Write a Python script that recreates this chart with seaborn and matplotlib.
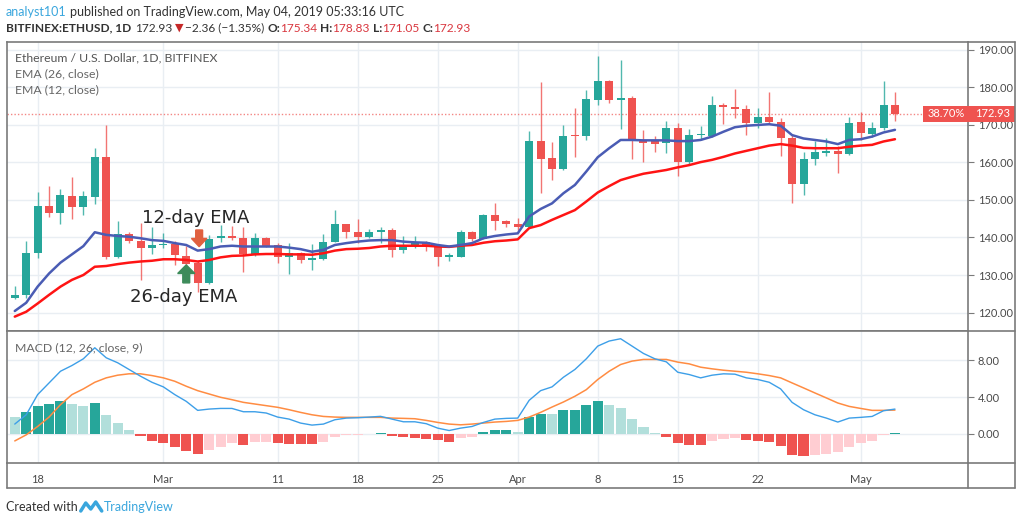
import numpy as np
import pandas as pd
import seaborn as sns
import matplotlib.pyplot as plt
from matplotlib.patches import Rectangle, FancyArrow

# ETH/USD daily candles, 16 Feb - 4 May 2019
start_day = "2019-02-16"
opens = np.array([124.0, 124.6, 135.8, 148.5, 146.5, 151.1, 148.0, 150.9, 161.5, 134.9,
                  140.9, 139.1, 137.3, 137.9, 138.3, 135.1, 133.1, 128.0, 139.8, 140.4,
                  139.8, 135.6, 139.8, 138.0, 134.9, 135.8, 133.9, 134.3, 138.9, 143.5,
                  141.4, 140.2, 141.4, 142.0, 136.7, 137.6, 138.8, 137.6, 134.9, 134.9,
                  141.5, 139.7, 146.0, 144.4, 143.6, 142.9, 165.7, 161.1, 158.3, 167.4,
                  167.0, 176.7, 181.6, 176.7, 177.3, 165.7, 165.6, 165.1, 169.1, 160.2,
                  167.3, 167.1, 175.3, 174.8, 174.3, 170.6, 172.2, 170.7, 166.6, 154.3,
                  161.0, 162.6, 163.1, 162.2, 170.7, 167.5, 169.1, 175.34])
highs = np.array([127.1, 139.1, 152.0, 153.7, 152.9, 156.2, 152.4, 163.8, 170.0, 144.4,
                  141.5, 143.8, 142.7, 141.1, 139.1, 137.7, 133.6, 140.7, 143.3, 143.1,
                  142.9, 141.1, 140.2, 138.6, 138.6, 136.2, 138.2, 140.9, 147.3, 143.7,
                  144.9, 142.3, 142.7, 142.5, 140.4, 140.5, 139.1, 138.0, 135.9, 142.0,
                  141.6, 146.3, 149.1, 144.6, 145.1, 168.5, 181.5, 165.4, 170.0, 174.6,
                  179.2, 188.4, 182.1, 187.3, 177.8, 168.7, 167.1, 171.1, 170.4, 168.8,
                  169.6, 177.8, 175.8, 179.5, 175.3, 174.6, 178.7, 171.8, 167.3, 162.7,
                  165.7, 166.4, 164.4, 172.0, 173.4, 170.9, 181.6, 178.83])
lows = np.array([123.5, 123.8, 134.4, 145.5, 143.6, 144.9, 145.9, 148.9, 134.3, 134.4,
                 138.6, 128.7, 135.6, 137.1, 132.6, 132.4, 125.5, 127.6, 138.9, 139.3,
                 130.9, 135.1, 137.4, 133.3, 130.4, 133.3, 131.3, 134.0, 138.7, 139.8,
                 138.5, 139.8, 138.6, 134.9, 135.9, 137.3, 136.5, 132.4, 133.6, 134.8,
                 139.1, 139.6, 142.0, 142.7, 142.0, 142.7, 151.8, 155.2, 158.0, 161.5,
                 166.0, 175.2, 175.8, 168.9, 160.9, 160.2, 162.9, 162.6, 156.5, 159.3,
                 166.0, 166.7, 170.2, 171.8, 167.3, 169.1, 170.2, 161.8, 149.1, 151.3,
                 159.2, 161.6, 157.1, 162.0, 166.0, 166.9, 168.7, 171.05])
closes = np.array([124.7, 135.8, 148.5, 146.5, 151.3, 148.0, 151.1, 161.5, 134.7, 140.9,
                   139.1, 137.3, 138.0, 138.3, 135.3, 132.9, 128.0, 139.5, 140.4, 139.8,
                   135.6, 139.8, 137.7, 134.9, 135.8, 134.0, 134.4, 138.9, 143.5, 141.4,
                   140.2, 141.4, 142.0, 136.7, 137.6, 138.8, 137.6, 134.7, 135.2, 141.5,
                   139.7, 146.0, 144.4, 143.5, 142.9, 165.7, 160.9, 158.3, 167.1, 167.0,
                   176.8, 181.6, 176.7, 177.3, 165.6, 165.3, 165.0, 169.1, 160.2, 167.4,
                   167.6, 175.3, 174.7, 174.2, 170.6, 172.2, 170.9, 166.6, 154.3, 160.8,
                   162.7, 163.1, 162.2, 170.4, 167.8, 169.3, 175.3, 172.93])

ema12 = np.array([120.4, 122.6, 126.9, 130.4, 133.3, 135.5, 137.7, 141.4, 140.7, 140.4,
                  140.2, 139.8, 139.3, 139.1, 138.5, 138.0, 136.5, 136.9, 137.6, 137.8,
                  137.6, 137.6, 137.6, 137.6, 137.3, 136.9, 136.2, 136.7, 138.0, 138.5,
                  138.9, 139.2, 139.3, 139.3, 138.9, 138.7, 138.6, 138.0, 137.6, 138.0,
                  138.5, 139.8, 140.4, 140.8, 141.1, 145.6, 147.6, 149.1, 151.8, 154.0,
                  157.6, 161.4, 163.8, 166.0, 166.0, 165.9, 165.9, 165.9, 165.7, 165.7,
                  166.0, 166.9, 168.2, 169.4, 169.8, 170.0, 170.2, 169.8, 167.3, 166.4,
                  166.0, 165.6, 164.9, 166.0, 166.2, 166.9, 168.0, 168.7])
ema26 = np.array([118.9, 120.2, 122.4, 124.7, 126.9, 128.7, 130.0, 132.2, 132.4, 132.9,
                  133.3, 133.6, 133.8, 134.2, 134.2, 134.0, 133.6, 134.0, 134.7, 135.1,
                  135.2, 135.5, 135.6, 135.6, 135.5, 135.5, 135.4, 135.8, 136.5, 136.9,
                  137.0, 137.2, 137.6, 137.8, 137.8, 137.8, 137.8, 137.6, 137.5, 137.8,
                  138.0, 138.6, 139.0, 139.2, 139.5, 142.5, 143.3, 144.7, 146.0, 147.3,
                  149.6, 152.0, 153.7, 155.3, 156.2, 157.0, 157.5, 158.0, 158.7, 159.3,
                  160.1, 160.7, 161.5, 162.4, 163.1, 163.8, 164.5, 164.9, 164.5, 163.9,
                  163.8, 163.8, 163.8, 164.2, 164.5, 164.7, 165.6, 166.2])

macd = np.array([1.06, 2.07, 4.26, 5.53, 6.80, 7.42, 8.15, 9.35, 8.26, 7.72,
                 6.99, 6.26, 5.60, 5.10, 4.26, 3.53, 2.55, 2.69, 2.76, 2.76,
                 2.40, 2.40, 2.26, 1.82, 1.60, 1.17, 0.95, 1.06, 1.53, 1.71,
                 1.75, 1.82, 1.90, 1.60, 1.31, 1.31, 1.10, 0.62, 0.36, 0.62,
                 0.80, 1.24, 1.60, 1.68, 1.71, 3.64, 4.69, 5.10, 6.15, 6.99,
                 8.15, 9.53, 10.08, 10.33, 9.53, 8.73, 8.15, 7.82, 6.69, 6.44,
                 6.08, 6.37, 6.52, 6.48, 6.08, 5.90, 5.60, 4.88, 3.42, 2.62,
                 2.07, 1.71, 1.28, 1.71, 1.79, 1.89, 2.51, 2.69])
signal = np.array([-0.77, -0.11, 0.80, 1.82, 3.17, 4.26, 4.88, 5.60, 6.08, 6.37,
                   6.52, 6.52, 6.33, 6.08, 5.71, 5.17, 4.69, 4.33, 3.97, 3.71,
                   3.42, 3.24, 3.06, 2.88, 2.62, 2.33, 2.07, 1.89, 1.82, 1.79,
                   1.79, 1.79, 1.79, 1.71, 1.68, 1.64, 1.46, 1.24, 1.06, 0.98,
                   1.06, 1.17, 1.28, 1.35, 1.46, 1.82, 2.33, 2.91, 3.46, 4.08,
                   4.80, 5.90, 6.80, 7.53, 7.90, 8.08, 8.08, 8.08, 7.79, 7.60,
                   7.24, 7.06, 6.91, 6.80, 6.69, 6.52, 6.33, 6.08, 5.53, 4.99,
                   4.44, 3.90, 3.35, 2.98, 2.76, 2.55, 2.55, 2.58])
hist = np.array([1.82, 2.37, 2.98, 3.28, 3.57, 3.28, 3.06, 3.38, 2.07, 1.17,
                 0.44, -0.22, -0.73, -0.95, -1.38, -1.82, -2.22, -1.75, -1.38, -1.02,
                 -1.20, -0.91, -0.84, -1.02, -1.05, -1.13, -1.15, -0.84, -0.29, -0.15,
                 -0.11, -0.04, 0.11, -0.22, -0.38, -0.42, -0.51, -0.66, -0.84, -0.40,
                 -0.29, 0.18, 0.40, 0.45, 0.25, 1.78, 2.20, 2.15, 2.55, 2.60,
                 3.09, 3.53, 3.17, 2.80, 1.60, 0.73, 0.05, -0.29, -1.02, -1.18,
                 -1.22, -0.73, -0.51, -0.44, -0.66, -0.76, -0.84, -1.27, -2.29, -2.40,
                 -2.29, -2.18, -1.97, -1.38, -1.02, -0.76, -0.11, 0.07])
hist_prev = 2.0  # bar before the first visible one

tick_days = ["2019-02-18", "2019-03-01", "2019-03-11", "2019-03-18", "2019-03-25",
             "2019-04-01", "2019-04-08", "2019-04-15", "2019-04-22", "2019-05-01"]
tick_labels = ["18", "Mar", "11", "18", "25", "Apr", "8", "15", "22", "May"]
price_ticks = [120, 130, 140, 150, 160, 170, 180, 190]
macd_ticks = [0, 4, 8]
range_change = "38.70%"

TEAL, RED = "#26a69a", "#ef5350"
GRID, FRAME, TXT = "#e9eef3", "#7a7a7a", "#4a4a4a"

sns.set_style("white")
plt.rcParams['font.family'] = ['Lato', 'DejaVu Sans']

W, H = 1024, 524
fig = plt.figure(figsize=(W / 100, H / 100), dpi=100)

def fx(px):
    return px / W

def fy(py):
    return 1 - py / H

ax = fig.add_axes([fx(7), fy(331), (968 - 7) / W, (331 - 41.7) / H])
axm = fig.add_axes([fx(7), fy(463.3), (968 - 7) / W, (463.3 - 331) / H], sharex=ax)

dates = pd.date_range(start_day, periods=len(closes))
x = np.arange(len(closes))
tick_pos = dates.get_indexer(pd.to_datetime(tick_days))

#candles
up = closes >= opens
ccol = np.where(up, TEAL, RED)
ax.vlines(x, lows, highs, colors=ccol, linewidth=1, alpha=0.8, zorder=3)
ax.bar(x, np.maximum(np.abs(closes - opens), 0.2), bottom=np.minimum(opens, closes),
       width=0.7, color=ccol, linewidth=0, zorder=4)

sns.lineplot(x=x, y=ema26, ax=ax, color="#ff1414", linewidth=1.8, zorder=5)
sns.lineplot(x=x, y=ema12, ax=ax, color="#4a5cb4", linewidth=1.8, zorder=5)

last = closes[-1]
ax.axhline(last, xmax=0.953, color=RED, linestyle=(0, (1, 1.5)), linewidth=1, alpha=0.7, zorder=2)

#annotations
ax.text(11.1, 143.8, "12-day EMA", fontsize=13, family="DejaVu Sans", va="baseline", zorder=6)
ax.text(10.08, 122.9, "26-day EMA", fontsize=13, family="DejaVu Sans", va="baseline", zorder=6)
ax.add_patch(FancyArrow(16.13, 142.0, 0, -4.45, width=0.6, head_width=1.35, head_length=2.2,
                        length_includes_head=True, color="#e0603f", zorder=7))
ax.add_patch(FancyArrow(15.0, 127.9, 0, 4.8, width=0.6, head_width=1.5, head_length=2.3,
                        length_includes_head=True, color="#3d8b5a", zorder=7))

#macd pane
prev = np.concatenate([[hist_prev], hist[:-1]])
hcol = np.where(hist >= 0, np.where(hist > prev, TEAL, "#b2dfdb"),
                np.where(hist < prev, RED, "#ffcdd2"))
axm.bar(x, hist, width=0.88, color=hcol, linewidth=0, zorder=2)
sns.lineplot(x=x, y=signal, ax=axm, color="#ff8c42", linewidth=1.1, zorder=3)
sns.lineplot(x=x, y=macd, ax=axm, color="#3d9fe8", linewidth=1.0, zorder=4)

ax.set_xlim(-0.68, 83.39)
ax.set_ylim(115.07, 192.2)
axm.set_ylim(-3.2, 11.17)

for a in (ax, axm):
    a.yaxis.tick_right()
    a.set_axisbelow(True)
    a.grid(True, color=GRID, linewidth=1)
    a.tick_params(axis="y", labelsize=8, colors=FRAME, labelcolor=TXT, length=4, pad=3)
    for s in a.spines.values():
        s.set_color(FRAME)
        s.set_linewidth(1.2)
    a.set_xlabel("")
    a.set_ylabel("")

ax.set_yticks(price_ticks)
ax.set_yticklabels([f"{v:.2f}" for v in price_ticks])
axm.set_yticks(macd_ticks)
axm.set_yticklabels([f"{v:.2f}" for v in macd_ticks])
axm.set_xticks(tick_pos)
axm.set_xticklabels(tick_labels)
ax.tick_params(axis="x", length=0, labelbottom=False)
axm.tick_params(axis="x", labelsize=8, colors=FRAME, labelcolor=TXT, length=4, pad=4)

#overlay for frame, price tags and header
ov = fig.add_axes([0, 0, 1, 1], zorder=10)
ov.set_xlim(0, W)
ov.set_ylim(H, 0)
ov.axis("off")
ov.patch.set_alpha(0)

for xs, ys in [((1015, 1015), (41.7, 488.3)), ((7, 1015), (488.3, 488.3)),
               ((968, 1015), (41.7, 41.7)), ((968, 1015), (331, 331)),
               ((968, 1015), (463.3, 463.3)), ((7, 7), (463.3, 488.3)),
               ((968, 968), (463.3, 488.3))]:
    ov.plot(xs, ys, color=FRAME, linewidth=1.2)

fig.canvas.draw()
ylast = H - ax.transData.transform((0, last))[1]
ov.add_patch(Rectangle((923, ylast - 8.3), 45, 16.6, color=RED, lw=0))
ov.add_patch(Rectangle((968, ylast - 8.3), 47, 16.6, color=RED, lw=0))
ov.text(965, ylast, range_change, color="white", fontsize=8, ha="right", va="center")
ov.text(975, ylast, f"{last:.2f}", color="white", fontsize=8, ha="left", va="center")

renderer = fig.canvas.get_renderer()

def chunks(xp, yp, parts, size):
    for s, gap, props in parts:
        kw = dict(fontsize=size, va="center", ha="left")
        kw.update(props)
        t = ov.text(xp, yp, s, **kw)
        xp += t.get_window_extent(renderer=renderer).width + gap
    return xp

DARK = "#333333"
BLUE = "#3aa6dd"
HRED = "#d9363e"
chunks(6, 12, [("analyst101", 3, dict(color=BLUE)),
               ("published on TradingView.com, May 04, 2019 05:33:16 UTC", 0, dict(color=DARK))], 9)
chunks(6, 28, [("BITFINEX:ETHUSD, 1D", 4, dict(color=DARK, weight="bold")),
               ("172.93", 2, dict(color=DARK)),
               ("\u25bc", 2, dict(color="#c62828", family="DejaVu Sans", fontsize=8)),
               ("\u22122.36 (\u22121.35%)", 3, dict(color=DARK)),
               ("O:", 0, dict(color=DARK, weight="bold")), ("175.34", 3, dict(color=HRED)),
               ("H:", 0, dict(color=DARK, weight="bold")), ("178.83", 3, dict(color=HRED)),
               ("L:", 0, dict(color=DARK, weight="bold")), ("171.05", 3, dict(color=HRED)),
               ("C:", 0, dict(color=DARK, weight="bold")), ("172.93", 0, dict(color=HRED))], 8.6)

ov.text(15, 58, "Ethereum / U.S. Dollar, 1D, BITFINEX", fontsize=8.8, color="#555555", va="center")
ov.text(15, 74, "EMA (26, close)", fontsize=8.8, color="#666666", va="center")
ov.text(15, 90, "EMA (12, close)", fontsize=8.8, color="#666666", va="center")
ov.text(15, 348, "MACD (12, 26, close, 9)", fontsize=8.8, color="#666666", va="center")

#footer
xe = chunks(6, 507, [("Created with", 3, dict(color=DARK))], 9)
ov.plot([xe, xe + 5, xe + 10, xe + 15, xe + 21], [511, 503, 509, 502, 511], color=BLUE,
        linewidth=2.5, solid_joinstyle="round", solid_capstyle="round")
ov.text(xe + 23, 507, "TradingView", fontsize=9, color=BLUE, va="center")

fig.savefig("out.png", dpi=100)
